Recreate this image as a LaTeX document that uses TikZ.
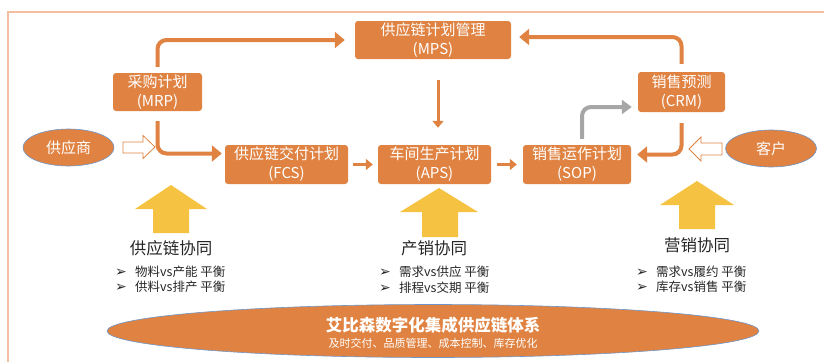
\documentclass[tikz,border=0pt]{standalone}
\usepackage{fontspec}
\setmainfont{Noto Sans CJK SC}
\newfontfamily\dingfont{DejaVu Sans}
\usetikzlibrary{arrows.meta,shapes.geometric}
\definecolor{boxorange}{RGB}{224,131,66}
\definecolor{framepeach}{RGB}{246,190,160}
\definecolor{goldarrow}{RGB}{245,194,66}
\definecolor{flowgray}{RGB}{166,166,166}
\definecolor{rimblue}{RGB}{110,150,200}
\tikzset{
  planbox/.style={rectangle, rounded corners=3pt, fill=boxorange, text=white, align=center,
    inner sep=0pt, font=\fontsize{15}{19}\selectfont},
  partner/.style={ellipse, fill=boxorange, draw=rimblue, line width=0.6pt, text=white,
    inner sep=0pt, minimum width=91pt, minimum height=37pt, font=\fontsize{15}{19}\selectfont},
  flow/.style={draw=boxorange, line width=4pt, rounded corners=9pt, -{Triangle[length=10pt,width=16pt]}},
  grayflow/.style={draw=flowgray, line width=4pt, rounded corners=9pt, -{Triangle[length=10pt,width=14pt]}},
  thinflow/.style={draw=boxorange, line width=3pt, -{Triangle[length=7pt,width=11pt]}},
  hollowarrow/.style={draw=boxorange, line width=0.8pt, fill=white},
  upblock/.style={fill=goldarrow},
  teamlabel/.style={font=\fontsize{16.5}{19}\selectfont, text=black!85},
  balancelist/.style={anchor=west, align=left, inner sep=0pt, text=black!85, font=\fontsize{12.5}{15.5}\selectfont},
}
\newcommand{\balitem}[1]{\makebox[20pt][l]{\dingfont\fontsize{14}{15}\selectfont ➢}#1}
\begin{document}
\begin{tikzpicture}[x=1pt,y=-1pt]
\useasboundingbox (0,0) rectangle (824,362);
% frame
\draw[framepeach, line width=1.5pt] (8,362) -- (8,12) -- (824,12);
% plans
\node[planbox, minimum width=156pt, minimum height=38pt] (mps) at (433,40) {供应链计划管理\\(MPS)};
\node[planbox, minimum width=89pt, minimum height=38pt] (mrp) at (157.5,92) {采购计划\\(MRP)};
\node[planbox, minimum width=123pt, minimum height=39pt] (fcs) at (286.5,164.5) {供应链交付计划\\(FCS)};
\node[planbox, minimum width=113pt, minimum height=39pt] (aps) at (434.5,164.5) {车间生产计划\\(APS)};
\node[planbox, minimum width=108pt, minimum height=39pt] (sop) at (577,164.5) {销售运作计划\\(SOP)};
\node[planbox, minimum width=87pt, minimum height=40pt] (crm) at (681.5,92) {销售预测\\(CRM)};
\node[partner] (supplier) at (68.5,147.5) {供应商};
\node[partner] (customer) at (771,148.5) {客户};
% flows
\draw[flow, shorten <=6pt, shorten >=10pt] (mrp.north) |- (mps.west);
\draw[flow, shorten <=10pt, shorten >=3pt] (mrp.south) |- ([yshift=11pt]fcs.west);
\draw[flow, shorten <=8pt, shorten >=8pt] (crm.north) |- ([yshift=3pt]mps.east);
\draw[flow, shorten <=11pt, shorten >=6pt] (crm.south) |- ([yshift=10pt]sop.east);
\draw[grayflow, shorten <=6pt, shorten >=6pt] ([xshift=5pt]sop.north) |- ([yshift=-15pt]crm.west);
\draw[thinflow, shorten <=21pt, shorten >=17pt] ([xshift=5pt]mps.south) -- ([xshift=3.5pt]aps.north);
\draw[thinflow, shorten <=5pt, shorten >=5pt] (fcs) -- (aps);
\draw[thinflow, shorten <=6pt, shorten >=6pt] (aps) -- (sop);
% hollow arrows
\draw[hollowarrow] (123,142) -- (143,142) -- (143,135.5) -- (155,147) -- (143,158.5) -- (143,153) -- (123,153) -- cycle;
\draw[hollowarrow] (722,143) -- (701,143) -- (701,137) -- (689,149) -- (701,161) -- (701,155) -- (722,155) -- cycle;
% up arrows
\fill[upblock] (153,233) -- (153,209) -- (135,209) -- (171,185) -- (207,209) -- (189,209) -- (189,233) -- cycle;
\fill[upblock] (422,237) -- (422,212) -- (400,212) -- (439,188) -- (478,212) -- (458,212) -- (458,237) -- cycle;
\fill[upblock] (679,229) -- (679,205) -- (660,205) -- (697,181) -- (734,205) -- (715,205) -- (715,229) -- cycle;
% teams
\node[teamlabel] (supplyteam) at (171,248) {供应链协同};
\node[teamlabel] (prodteam) at (434,248) {产销协同};
\node[teamlabel] (salesteam) at (697,245) {营销协同};
\node[balancelist] (supplylist) at (115,279.5) {\balitem{物料vs产能 平衡}\\\balitem{供料vs排产 平衡}};
\node[balancelist] (prodlist) at (379,279.5) {\balitem{需求vs供应 平衡}\\\balitem{排程vs交期 平衡}};
\node[balancelist] (saleslist) at (636,279.5) {\balitem{需求vs履约 平衡}\\\balitem{库存vs销售 平衡}};
% system
\node[ellipse, fill=boxorange, draw=rimblue, line width=0.6pt, minimum width=652pt, minimum height=53pt, inner sep=0pt] (system) at (433,331) {};
\node[text=white, font=\fontsize{16.5}{19}\selectfont\bfseries] (systitle) at (433,325) {艾比森数字化集成供应链体系};
\node[text=white, font=\fontsize{11}{13}\selectfont] (syssub) at (433,343) {及时交付、品质管理、成本控制、库存优化};
\end{tikzpicture}
\end{document}
